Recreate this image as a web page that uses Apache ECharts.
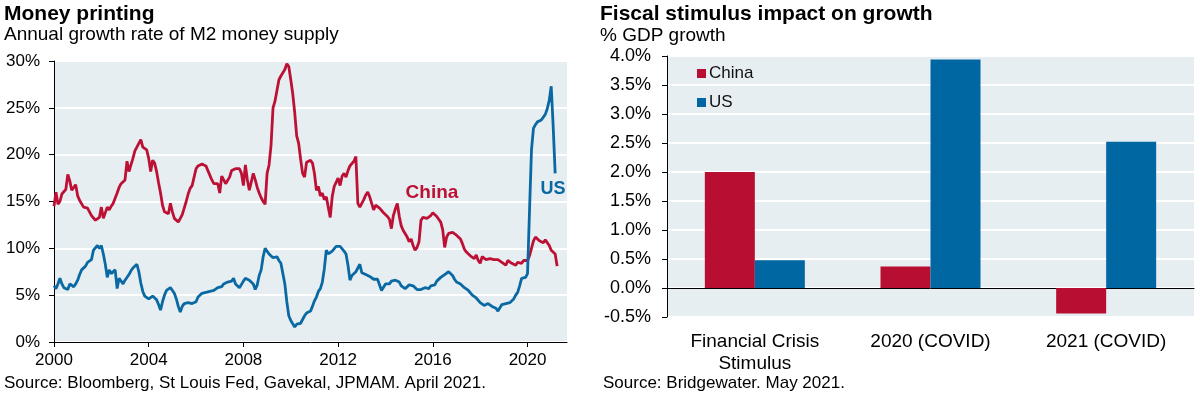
<!DOCTYPE html>
<html>
<head>
<meta charset="utf-8">
<script src="https://cdn.jsdelivr.net/npm/echarts@6/dist/echarts.min.js"></script>
<style>
  html, body { margin: 0; padding: 0; background: #fff; }
  #main { width: 1198px; height: 399px; }
</style>
</head>
<body>
<div id="main"></div>
<script>
// M2 yoy growth, monthly from Jan 2000 (one row per year)
var chinaM2 = [
  14.5, 16.0, 14.7, 15.0, 15.8, 15.7, 16.3, 17.9, 17.2, 16.2, 16.5, 16.8,
  15.6, 15.1, 14.9, 14.4, 14.2, 14.3, 13.9, 13.5, 13.6, 13.0, 13.1, 13.3,
  14.4, 13.2, 13.2, 14.4, 14.1, 14.5, 14.8, 14.7, 15.9, 16.5, 16.9, 16.7,
  17.3, 19.3, 18.2, 18.9, 19.6, 20.4, 20.8, 20.8, 21.6, 20.8, 21.0, 20.5,
  19.6, 18.2, 19.4, 19.1, 18.2, 17.0, 15.9, 14.6, 13.9, 13.9, 13.7, 14.8,
  13.9, 13.2, 13.0, 12.8, 13.0, 13.6, 14.3, 15.0, 15.8, 16.4, 16.7, 16.5,
  18.5, 18.8, 18.9, 19.0, 19.0, 18.8, 18.3, 18.2, 17.3, 16.9, 16.9, 16.9,
  15.9, 17.7, 17.3, 16.9, 17.1, 17.6, 18.3, 18.1, 18.5, 18.4, 18.5, 18.0,
  16.7, 18.9, 17.3, 16.2, 17.1, 18.0, 17.3, 16.5, 15.9, 15.4, 15.0, 14.7,
  18.0, 18.9, 21.0, 25.0, 25.7, 25.8, 28.0, 28.4, 28.6, 29.1, 29.7, 29.4,
  28.0, 26.5, 24.5, 22.0, 21.2, 19.5, 18.0, 17.6, 19.2, 19.4, 19.4, 19.1,
  18.0, 16.2, 16.6, 15.6, 15.9, 15.2, 15.5, 14.4, 13.3, 15.5, 16.6, 16.7,
  17.5, 16.7, 17.7, 18.0, 17.6, 18.3, 18.8, 18.7, 19.3, 19.8, 14.8, 14.4,
  14.6, 15.2, 15.7, 16.0, 15.5, 14.8, 14.1, 14.6, 14.4, 14.3, 14.1, 13.8,
  13.6, 13.4, 13.1, 12.1, 13.5, 14.2, 14.8, 13.4, 12.4, 11.9, 11.8, 11.2,
  10.7, 11.0, 10.3, 9.8, 10.1, 10.7, 13.0, 13.3, 13.4, 13.2, 13.4, 13.5,
  13.8, 13.6, 13.4, 13.3, 12.8, 12.0, 10.1, 11.2, 11.6, 11.8, 11.7, 11.6,
  11.4, 11.3, 11.0, 10.5, 9.9, 9.6, 9.4, 9.2, 9.0, 8.9, 9.3, 8.7,
  8.4, 9.1, 8.9, 8.8, 8.8, 8.9, 8.7, 8.8, 8.7, 8.8, 8.9, 8.5,
  8.7, 8.2, 8.7, 8.5, 8.4, 8.5, 8.2, 8.5, 8.4, 8.4, 8.7, 8.7,
  8.7, 9.2, 10.0, 10.8, 11.2, 11.0, 10.8, 10.7, 10.6, 10.9, 10.7, 10.3,
  9.8, 10.0, 9.4, 8.1
];
var usM2 = [
  6.0, 5.7, 6.2, 6.8, 6.2, 5.8, 5.7, 5.6, 6.2, 6.1, 5.9, 6.2,
  6.6, 7.2, 7.7, 7.8, 8.1, 8.5, 8.7, 8.8, 9.8, 9.7, 10.3, 10.0,
  10.3, 9.4, 8.3, 6.9, 7.7, 7.3, 7.4, 7.7, 5.7, 6.8, 6.6, 6.2,
  6.6, 6.8, 7.2, 7.6, 7.9, 8.0, 8.3, 7.5, 6.3, 5.4, 4.9, 4.8,
  4.6, 4.8, 4.9, 4.7, 4.5, 4.0, 3.4, 4.3, 5.0, 5.5, 5.7, 5.8,
  5.6, 5.2, 4.6, 3.8, 3.2, 3.8, 4.1, 4.1, 4.2, 4.2, 4.1, 3.9,
  4.3, 4.8, 5.0, 5.2, 5.3, 5.3, 5.2, 5.4, 5.3, 5.5, 5.7, 5.8,
  5.7, 5.9, 6.2, 6.3, 6.4, 6.3, 6.5, 6.8, 6.2, 6.0, 5.8, 5.8,
  6.5, 6.8, 6.6, 6.6, 6.6, 6.2, 5.6, 6.1, 7.1, 7.7, 9.1, 10.0,
  10.2, 9.4, 9.3, 9.0, 9.2, 9.1, 8.7, 8.4, 7.3, 6.2, 4.3, 2.8,
  2.3, 2.4, 1.6, 1.9, 2.0, 2.0, 2.4, 2.8, 3.1, 3.3, 3.3, 3.8,
  4.4, 4.8, 5.4, 5.7, 6.4, 7.8, 9.8, 9.4, 9.6, 9.7, 9.9, 10.2,
  10.4, 10.2, 10.0, 9.7, 9.4, 8.2, 6.6, 7.1, 7.3, 7.5, 7.6, 8.3,
  7.4, 7.3, 7.2, 7.1, 7.0, 6.9, 6.7, 6.6, 6.7, 6.5, 5.5, 5.7,
  6.2, 6.3, 6.2, 6.5, 6.6, 6.6, 6.6, 6.4, 6.0, 5.8, 5.7, 5.9,
  6.1, 6.2, 6.0, 5.9, 5.6, 5.5, 5.6, 5.7, 5.8, 5.8, 5.7, 6.0,
  5.8, 6.1, 6.5, 6.7, 6.9, 7.1, 7.2, 7.3, 7.5, 7.4, 7.1, 6.7,
  6.4, 6.2, 6.2, 6.0, 5.8, 5.7, 5.5, 5.3, 5.0, 4.8, 4.7, 4.5,
  4.2, 4.0, 3.9, 3.7, 4.1, 3.9, 3.8, 3.7, 3.6, 3.3, 3.5, 4.0,
  4.2, 4.1, 4.1, 4.2, 4.4, 4.6, 5.0, 5.3, 6.0, 6.8, 6.6, 6.9,
  7.3, 14.0, 20.5, 22.8, 23.2, 23.5, 23.3, 23.7, 23.9, 24.3, 24.9, 25.8,
  27.3, 23.0, 18.0
];

// x axis runs Jan 2000 .. Sep 2021
var months = [];
for (var i = 0; i < 261; i++) {
  months.push((2000 + Math.floor(i / 12)) + '-' + String(i % 12 + 1).padStart(2, '0'));
}

var barCategories = ['Financial Crisis\nStimulus', '2020 (COVID)', '2021 (COVID)'];
var chinaStimulus = [2.0, 0.37, -0.44];
var usStimulus = [0.48, 3.94, 2.52];

var RED = '#bd1035';
var BLUE = '#0a69a3';
var FONT = '"Liberation Sans", Arial, sans-serif';

var myChart = echarts.init(document.getElementById('main'));

function txt(x, y, text, size, bold, color, align) {
  return {
    type: 'text',
    x: x, y: y,
    style: {
      text: text,
      font: (bold ? 'bold ' : '') + size + 'px ' + FONT,
      fill: color || '#000',
      align: align || 'left',
      verticalAlign: 'middle'
    }
  };
}

var option = {
  animation: false,
  textStyle: { fontFamily: FONT },
  graphic: [
    txt(4, 14, 'Money printing', 21, true),
    txt(4, 35, 'Annual growth rate of M2 money supply', 19, false),
    txt(4, 383, 'Source: Bloomberg, St Louis Fed, Gavekal, JPMAM. April 2021.', 17, false),
    txt(600, 14, 'Fiscal stimulus impact on growth', 21, true),
    txt(600, 36, '% GDP growth', 19, false),
    txt(603, 383, 'Source: Bridgewater. May 2021.', 17, false),
    txt(432, 193, 'China', 19, true, RED, 'center'),
    txt(553, 189, 'US', 18, true, BLUE, 'center')
  ],
  legend: {
    data: ['China', 'US'],
    orient: 'vertical',
    left: 692,
    top: 60,
    icon: 'rect',
    itemWidth: 9,
    itemHeight: 9,
    itemGap: 12,
    textStyle: { fontSize: 17, color: '#111', padding: [0, 0, 0, -2] }
  },
  grid: [
    { left: 54, top: 61, width: 513, height: 281, show: true, backgroundColor: '#e6eef2', borderWidth: 0 },
    { left: 667, top: 56, width: 527, height: 261, show: true, backgroundColor: '#e6eef2', borderWidth: 0 }
  ],
  xAxis: [
    {
      gridIndex: 0,
      type: 'category',
      data: months,
      boundaryGap: false,
      axisLine: { lineStyle: { color: '#000', width: 1 } },
      axisTick: { interval: function (idx) { return idx % 48 === 0; }, length: 5, lineStyle: { color: '#000' } },
      axisLabel: {
        interval: function (idx) { return idx % 48 === 0; },
        formatter: function (v) { return v.slice(0, 4); },
        color: '#000', fontSize: 17, margin: 10
      },
      splitLine: { show: false }
    },
    {
      gridIndex: 1,
      type: 'category',
      data: barCategories,
      position: 'bottom',
      axisLine: { onZero: true, lineStyle: { color: '#000', width: 1 } },
      axisTick: { length: 5, lineStyle: { color: '#000' } },
      axisLabel: { show: false }
    },
    {
      gridIndex: 1,
      type: 'category',
      data: barCategories,
      position: 'bottom',
      axisLine: { show: false, onZero: false },
      axisTick: { show: false },
      axisLabel: { color: '#000', fontSize: 19, lineHeight: 22, margin: 14 }
    }
  ],
  yAxis: [
    {
      gridIndex: 0,
      type: 'value',
      min: 0, max: 30, interval: 5,
      axisLine: { show: true, lineStyle: { color: '#000', width: 1 } },
      axisTick: { show: true, length: 5, lineStyle: { color: '#000' } },
      axisLabel: { formatter: '{value}%', color: '#000', fontSize: 17, margin: 14 },
      splitLine: { lineStyle: { color: '#ffffff', width: 2 } }
    },
    {
      gridIndex: 1,
      type: 'value',
      min: -0.5, max: 4.0, interval: 0.5,
      axisLine: { show: true, onZero: false, lineStyle: { color: '#000', width: 1 } },
      axisTick: { show: true, length: 5, lineStyle: { color: '#000' } },
      axisLabel: { formatter: function (v) { return v.toFixed(1) + '%'; }, color: '#000', fontSize: 18, margin: 16 },
      splitLine: { lineStyle: { color: '#ffffff', width: 2 } }
    }
  ],
  series: [
    {
      name: 'China M2', type: 'line', xAxisIndex: 0, yAxisIndex: 0,
      data: chinaM2, showSymbol: false, symbol: 'none',
      lineStyle: { color: RED, width: 2.8 }, z: 3
    },
    {
      name: 'US M2', type: 'line', xAxisIndex: 0, yAxisIndex: 0,
      data: usM2, showSymbol: false, symbol: 'none',
      lineStyle: { color: BLUE, width: 2.8 }, z: 4
    },
    {
      name: 'China', type: 'bar', xAxisIndex: 1, yAxisIndex: 1,
      data: chinaStimulus, barWidth: 50, barGap: '0%',
      itemStyle: { color: '#b80e31' }
    },
    {
      name: 'US', type: 'bar', xAxisIndex: 1, yAxisIndex: 1,
      data: usStimulus, barWidth: 50, barGap: '0%',
      itemStyle: { color: '#0067a2' }
    }
  ]
};

myChart.setOption(option);
</script>
</body>
</html>
